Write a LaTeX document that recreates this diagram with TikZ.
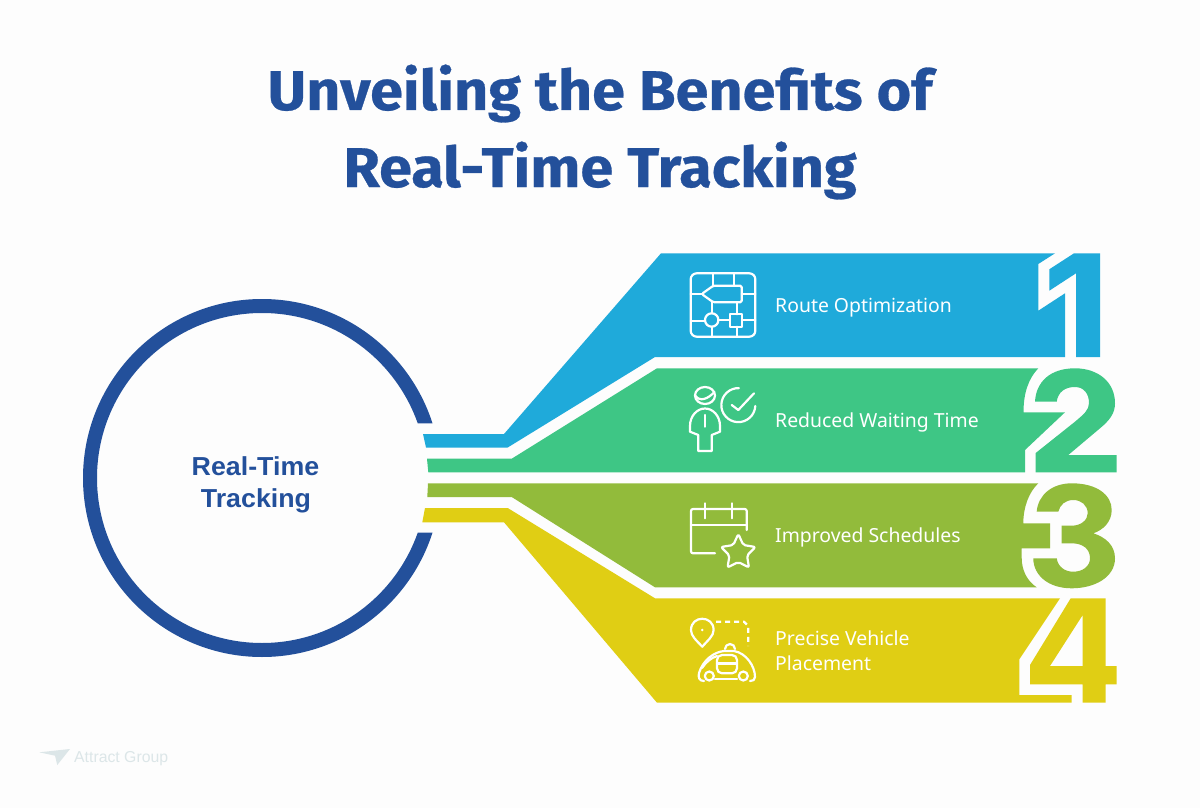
\documentclass[tikz,border=0pt]{standalone}
\usepackage{fontspec}
\setmainfont{Liberation Sans}
\newfontfamily\titlefont[FakeBold=0.5,FakeStretch=1.06]{Fira Sans Bold}
\newfontfamily\labelfont{Noto Sans}
\newfontfamily\centerfont[FakeStretch=1.03]{Liberation Sans Bold}
\definecolor{bgc}{HTML}{FDFDFD}
\definecolor{navy}{HTML}{23509B}
\definecolor{cblue}{HTML}{1FAADA}
\definecolor{cgreen}{HTML}{3EC685}
\definecolor{colive}{HTML}{92BB3B}
\definecolor{cyell}{HTML}{E0CE14}
\definecolor{logoc}{HTML}{DCE6E8}
\tikzset{
  titletxt/.style={anchor=base,text=navy,font=\titlefont\fontsize{56}{60}\selectfont,inner sep=0pt},
  centertxt/.style={anchor=base,text=navy,font=\centerfont\fontsize{26}{30}\selectfont,inner sep=0pt},
  labeltxt/.style={anchor=base west,text=white,font=\labelfont\fontsize{19.4}{23}\selectfont,inner sep=0pt},
  ico/.style={draw=white,line width=2.2pt,line join=round,line cap=round},
}
\begin{document}
\begin{tikzpicture}[x=1pt,y=-1pt]
\useasboundingbox (0,0) rectangle (1200,808);
\fill[bgc] (0,0) rectangle (1200,808);
% title
\node[titletxt] (t1) at (600,110) {Unveiling the Benefits of};
\node[titletxt] (t2) at (600,187) {Real-Time Tracking};
% ring
\begin{scope}
\clip (0,0) -- (500,0) -- (500,423.3) -- (380,423.3) -- (380,532.7) -- (500,532.7) -- (500,808) -- (0,808) -- cycle;
\draw[navy,line width=14pt] (262,478) circle (172);
\end{scope}
\node[centertxt] (c1) at (255.5,475) {Real-Time};
\node[centertxt] (c2) at (256,507) {Tracking};
% blue band
\fill[cblue] (423,434) -- (504,434) -- (661,253.3) -- (1055,253.3) -- (1038.3,264) -- (1038.3,310.7) -- (1065,293.3) -- (1065,357) -- (655,357) -- (507.7,447.5) -- (426,447.5) -- cycle;
\fill[cblue] (1076,357) -- (1076,273.3) -- (1049.3,290.7) -- (1049.3,269.3) -- (1074,253.3) -- (1100,253.3) -- (1100,357) -- cycle;
% green band
\fill[cgreen] (427,458.7) -- (511.7,458.7) -- (657,368.3) -- (1038.3,368.3) .. controls (1029,378) and (1023.5,392) .. (1023.5,412.3) -- (1065,412.3) -- (1025,450) -- (1025,472.3) -- (428.3,472.3) -- cycle;
\fill[cgreen] (1035.7,472.3) -- (1116.7,472.3) -- (1116.7,455) -- (1068.3,455) -- (1100,428.3)
  .. controls (1110,420) and (1115,413) .. (1115,403.3)
  .. controls (1115,382) and (1098,368.3) .. (1075,368.3)
  .. controls (1050,368.3) and (1036,382) .. (1035,401.7)
  -- (1056.7,401.7) .. controls (1058,392) and (1065,387) .. (1075,387)
  .. controls (1084,387) and (1089,394) .. (1089,403)
  .. controls (1089,410) and (1084,414) .. (1075,421.7)
  -- (1035.7,453) -- cycle;
% olive band
\fill[colive] (428,483.3) -- (1038.3,483.3) .. controls (1029,492) and (1023.3,507) .. (1023.3,523.3) -- (1050,523.3) -- (1050,548.3) -- (1021.7,548.3) -- (1021.7,558) .. controls (1021.7,570) and (1027,581) .. (1036.7,587.3) -- (655,587.3) -- (511.7,497) -- (427.3,497) -- cycle;
\fill[colive] (1036.7,511.7) .. controls (1038,495) and (1052,483.3) .. (1071.7,483.3)
  .. controls (1097,483.3) and (1111.7,495) .. (1111.7,510)
  .. controls (1111.7,522) and (1103,530) .. (1093.3,533.3)
  .. controls (1105,537) and (1115,545) .. (1115,558.3)
  .. controls (1115,577) and (1095,588.3) .. (1071.7,588.3)
  .. controls (1048,588.3) and (1033.3,575) .. (1033.3,558.3)
  -- (1056.7,558.3) .. controls (1058,567) and (1065,571.7) .. (1073.3,571.7)
  .. controls (1083,571.7) and (1090,566) .. (1090,558.3)
  .. controls (1090,549) and (1083,543.3) .. (1071.7,543.3)
  -- (1061.7,543.3) -- (1061.7,525.7) -- (1071.7,525.7)
  .. controls (1081,525.7) and (1087.7,520) .. (1087.7,513.3)
  .. controls (1087.7,505) and (1081,500) .. (1073.3,500)
  .. controls (1065,500) and (1060,505) .. (1058.3,511.7) -- cycle;
% yellow band
\fill[cyell] (425,508) -- (507.7,508) -- (655,598.3) -- (1060,598.3) -- (1019.3,659.3) -- (1019.3,695) -- (1071.7,695) -- (1071.7,702.7) -- (657,702.7) -- (504,522.3) -- (422.3,522.3) -- cycle;
\fill[cyell,even odd rule] (1070.7,598.3) -- (1105.7,598.3) -- (1105.7,666) -- (1116.7,666) -- (1116.7,684.3) -- (1105.7,684.3) -- (1105.7,702.7) -- (1082.7,702.7) -- (1082.7,684.3) -- (1030,684.3) -- (1030,665) -- cycle
  (1082.7,615) -- (1050,666) -- (1082.7,666) -- cycle;
% labels
\node[labeltxt] (l1) at (775,312) {Route Optimization};
\node[labeltxt] (l2) at (775,427) {Reduced Waiting Time};
\node[labeltxt] (l3) at (775,542) {Improved Schedules};
\node[labeltxt] (l4a) at (775,645) {Precise Vehicle};
\node[labeltxt] (l4b) at (775,670) {Placement};
% icon 1
\draw[ico,rounded corners=6pt] (690.7,273.3) rectangle (755.3,336.7);
\draw[ico,rounded corners=1.5pt] (701.7,294) -- (713.3,285.7) -- (741.7,285.7) -- (741.7,302.3) -- (713.3,302.3) -- cycle;
\draw[ico] (711.7,320) circle (6.7);
\draw[ico] (730,314.3) rectangle (742.3,326.7);
\draw[ico] (713.3,273.3) -- (713.3,285.7) (734.3,273.3) -- (734.3,285.7)
  (690.7,294) -- (701.7,294) (741.7,294) -- (755.3,294)
  (711.7,302.3) -- (711.7,313.3) (736.7,302.3) -- (736.7,314.3)
  (690.7,321) -- (705,321) (718.4,320) -- (730,320) (742.3,320) -- (755.3,320)
  (711.7,326.7) -- (711.7,336.7) (736.7,326.7) -- (736.7,336.7);
% icon 2
\draw[ico] (705,395.5) ellipse (10 and 8.5);
\draw[ico] (695.5,396) .. controls (700,402) and (708,399) .. (714.3,392);
\draw[ico] (698.3,451) -- (698.3,435) -- (690,431.7) -- (690,426) .. controls (690,416) and (697,408.5) .. (705,408.5) .. controls (713,408.5) and (720,416) .. (720,426) -- (720,431.7) -- (711.7,435) -- (711.7,451) -- cycle;
\draw[ico] (705,415) -- (705,426.7);
\draw[ico] (755.3,406) arc[start angle=3,end angle=272,radius=17];
\draw[ico] (731.7,405) -- (738.3,410) -- (754,393.3);
% icon 3
\draw[ico,rounded corners=2pt] (715,553.3) -- (691,553.3) -- (691,509) -- (746.7,509) -- (746.7,530);
\draw[ico] (691,525) -- (746.7,525) (705,503.3) -- (705,518.3) (732.3,503.3) -- (732.3,518.3);
\draw[ico,rounded corners=2pt] (738.3,534) -- (743.3,545) -- (755.5,547) -- (747,555.5) -- (749,567.5) -- (738.3,562) -- (727.5,567.5) -- (729.5,555.5) -- (721,547) -- (733.3,545) -- cycle;
% icon 4
\draw[ico] (702.3,646.7) .. controls (696,640) and (691,636) .. (691,630) .. controls (691,615) and (713.6,615) .. (713.6,630) .. controls (713.6,636) and (708,640) .. (702.3,646.7) -- cycle;
\fill[white] (702.3,630) circle (1.4);
\draw[ico,dashed,dash pattern=on 5pt off 4pt,line cap=butt] (716,621.7) -- (744,621.7) -- (748.3,626) -- (748.3,646);
\draw[ico] (704,681) .. controls (699,681) and (698,677) .. (699,673) .. controls (703,660) and (714,652) .. (724,651) -- (734,651) .. controls (746,653) and (755,666) .. (755,677) .. controls (755,680) and (753,681) .. (750,681);
\draw[ico] (709.3,676) circle (4.5) (743.3,676) circle (4.5);
\draw[ico] (715,679) -- (737,679);
\draw[ico,rounded corners=5pt] (717,655) rectangle (737,673.3);
\draw[ico] (717,663.5) -- (737,663.5);
\draw[ico] (725,649) arc[start angle=180,end angle=360,radius=5];
\draw[ico] (702,668) .. controls (706,662) and (711,658) .. (717,656);
% logo
\fill[logoc] (39.3,752.3) -- (70,749) -- (57.3,765) -- (55,755.7) -- cycle;
\node[anchor=base west,text=logoc,font=\fontsize{15.8}{20}\selectfont,inner sep=0pt] (logo) at (74,762) {Attract Group};
\end{tikzpicture}
\end{document}
